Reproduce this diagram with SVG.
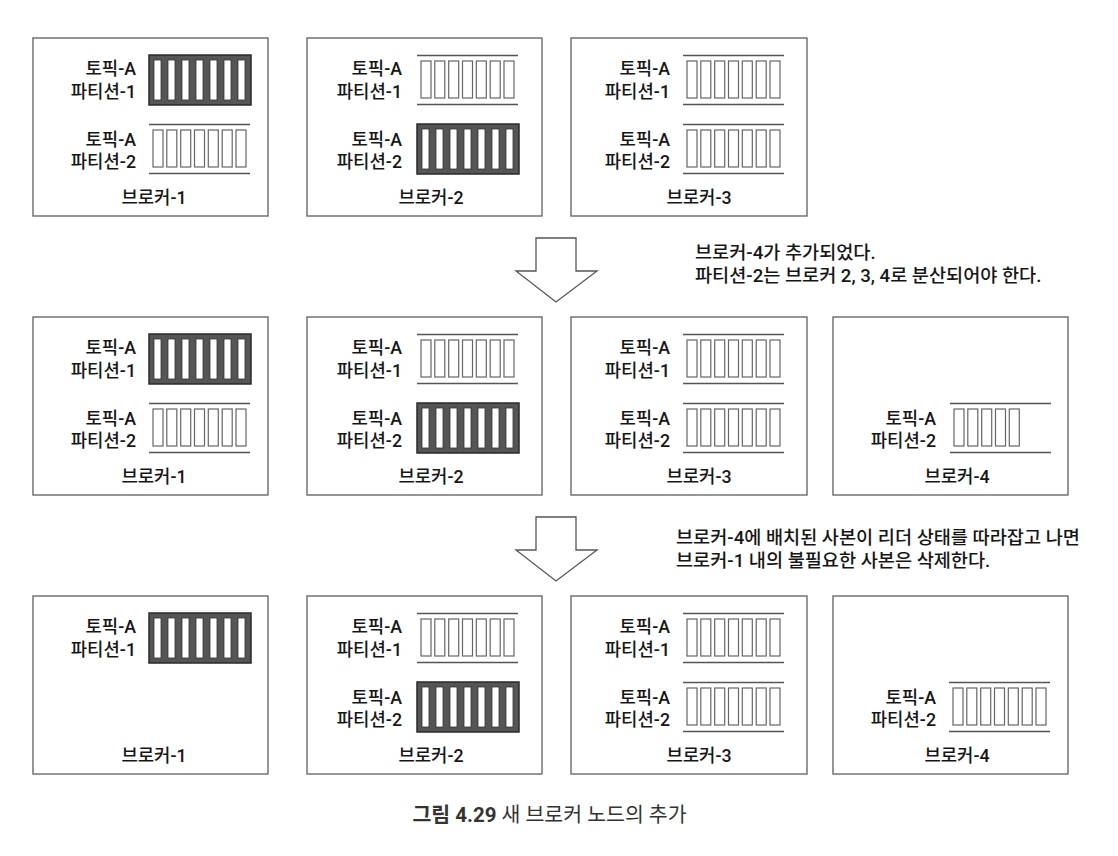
<svg xmlns="http://www.w3.org/2000/svg" xmlns:xlink="http://www.w3.org/1999/xlink" width="1118" height="856" viewBox="0 0 1118 856">
<style>
text{font-family:Roboto,"Noto Sans CJK KR",sans-serif;fill:#161616;font-size:17.8px;font-weight:500}
.lbl{text-anchor:end}
.name{text-anchor:middle}
.box{fill:#fff;stroke:#6a6a6a;stroke-width:1.4}
.note{font-size:18.6px}
.cap{font-size:20.5px;fill:#333;text-anchor:middle;font-weight:400}
.arrow{fill:#fff;stroke:#555;stroke-width:1.3;stroke-linejoin:miter}
</style>
<defs>
<g id="leader">
<rect x="0" y="0" width="102" height="50" fill="#555" stroke="#2a2a2a" stroke-width="1.5"/>
<g fill="#fff" stroke="#333" stroke-width="0.8">
<rect x="5" y="5" width="7" height="40"/><rect x="19" y="5" width="7" height="40"/><rect x="33" y="5" width="7" height="40"/><rect x="47" y="5" width="7" height="40"/><rect x="61" y="5" width="7" height="40"/><rect x="75" y="5" width="7" height="40"/><rect x="89" y="5" width="7" height="40"/>
</g>
</g>
<g id="follower7">
<path d="M0 0.5H101M0 49.5H101" stroke="#555" stroke-width="1.3" fill="none"/>
<g fill="#fff" stroke="#666" stroke-width="1.2">
<rect x="4" y="6" width="10" height="37"/><rect x="17.8" y="6" width="10" height="37"/><rect x="31.7" y="6" width="10" height="37"/><rect x="45.5" y="6" width="10" height="37"/><rect x="59.3" y="6" width="10" height="37"/><rect x="73.2" y="6" width="10" height="37"/><rect x="87" y="6" width="10" height="37"/>
</g>
</g>
<g id="follower5">
<path d="M0 0.5H101M0 49.5H101" stroke="#555" stroke-width="1.3" fill="none"/>
<g fill="#fff" stroke="#666" stroke-width="1.2">
<rect x="4" y="6" width="10" height="37"/><rect x="17.8" y="6" width="10" height="37"/><rect x="31.7" y="6" width="10" height="37"/><rect x="45.5" y="6" width="10" height="37"/><rect x="59.3" y="6" width="10" height="37"/>
</g>
</g>
</defs>

<!-- Row 1 -->
<g id="r1-broker1">
<rect class="box" x="33" y="38" width="235" height="178"/>
<use xlink:href="#leader" x="149" y="55"/>
<use xlink:href="#follower7" x="149" y="124"/>
<text class="lbl" x="136" y="75">토픽-A</text><text class="lbl" x="136" y="98">파티션-1</text>
<text class="lbl" x="136" y="146">토픽-A</text><text class="lbl" x="136" y="168">파티션-2</text>
<text class="name" x="154" y="204">브로커-1</text>
</g>
<g id="r1-broker2">
<rect class="box" x="307" y="38" width="235" height="178"/>
<use xlink:href="#follower7" x="417" y="55"/>
<use xlink:href="#leader" x="417" y="124"/>
<text class="lbl" x="402" y="75">토픽-A</text><text class="lbl" x="402" y="98">파티션-1</text>
<text class="lbl" x="402" y="146">토픽-A</text><text class="lbl" x="402" y="168">파티션-2</text>
<text class="name" x="431" y="204">브로커-2</text>
</g>
<g id="r1-broker3">
<rect class="box" x="571" y="38" width="236" height="178"/>
<use xlink:href="#follower7" x="683" y="55"/>
<use xlink:href="#follower7" x="683" y="124"/>
<text class="lbl" x="670" y="75">토픽-A</text><text class="lbl" x="670" y="98">파티션-1</text>
<text class="lbl" x="670" y="146">토픽-A</text><text class="lbl" x="670" y="168">파티션-2</text>
<text class="name" x="699" y="204">브로커-3</text>
</g>

<!-- Row 2 -->
<g id="r2-broker1">
<rect class="box" x="33" y="317" width="235" height="178"/>
<use xlink:href="#leader" x="149" y="334"/>
<use xlink:href="#follower7" x="149" y="403"/>
<text class="lbl" x="136" y="354">토픽-A</text><text class="lbl" x="136" y="377">파티션-1</text>
<text class="lbl" x="136" y="425">토픽-A</text><text class="lbl" x="136" y="447">파티션-2</text>
<text class="name" x="154" y="483">브로커-1</text>
</g>
<g id="r2-broker2">
<rect class="box" x="307" y="317" width="235" height="178"/>
<use xlink:href="#follower7" x="417" y="334"/>
<use xlink:href="#leader" x="417" y="403"/>
<text class="lbl" x="402" y="354">토픽-A</text><text class="lbl" x="402" y="377">파티션-1</text>
<text class="lbl" x="402" y="425">토픽-A</text><text class="lbl" x="402" y="447">파티션-2</text>
<text class="name" x="431" y="483">브로커-2</text>
</g>
<g id="r2-broker3">
<rect class="box" x="571" y="317" width="236" height="178"/>
<use xlink:href="#follower7" x="683" y="334"/>
<use xlink:href="#follower7" x="683" y="403"/>
<text class="lbl" x="670" y="354">토픽-A</text><text class="lbl" x="670" y="377">파티션-1</text>
<text class="lbl" x="670" y="425">토픽-A</text><text class="lbl" x="670" y="447">파티션-2</text>
<text class="name" x="699" y="483">브로커-3</text>
</g>
<g id="r2-broker4">
<rect class="box" x="833" y="317" width="235" height="178"/>
<use xlink:href="#follower5" x="950" y="403"/>
<text class="lbl" x="936" y="425">토픽-A</text><text class="lbl" x="936" y="447">파티션-2</text>
<text class="name" x="957" y="483">브로커-4</text>
</g>

<!-- Row 3 -->
<g id="r3-broker1">
<rect class="box" x="33" y="596" width="235" height="178"/>
<use xlink:href="#leader" x="149" y="613"/>
<text class="lbl" x="136" y="633">토픽-A</text><text class="lbl" x="136" y="656">파티션-1</text>
<text class="name" x="154" y="762">브로커-1</text>
</g>
<g id="r3-broker2">
<rect class="box" x="307" y="596" width="235" height="178"/>
<use xlink:href="#follower7" x="417" y="613"/>
<use xlink:href="#leader" x="417" y="682"/>
<text class="lbl" x="402" y="633">토픽-A</text><text class="lbl" x="402" y="656">파티션-1</text>
<text class="lbl" x="402" y="704">토픽-A</text><text class="lbl" x="402" y="726">파티션-2</text>
<text class="name" x="431" y="762">브로커-2</text>
</g>
<g id="r3-broker3">
<rect class="box" x="571" y="596" width="236" height="178"/>
<use xlink:href="#follower7" x="683" y="613"/>
<use xlink:href="#follower7" x="683" y="682"/>
<text class="lbl" x="670" y="633">토픽-A</text><text class="lbl" x="670" y="656">파티션-1</text>
<text class="lbl" x="670" y="704">토픽-A</text><text class="lbl" x="670" y="726">파티션-2</text>
<text class="name" x="699" y="762">브로커-3</text>
</g>
<g id="r3-broker4">
<rect class="box" x="833" y="596" width="235" height="178"/>
<use xlink:href="#follower7" x="949" y="682"/>
<text class="lbl" x="936" y="704">토픽-A</text><text class="lbl" x="936" y="726">파티션-2</text>
<text class="name" x="957" y="762">브로커-4</text>
</g>

<!-- Connectors: transition arrows -->
<g id="connectors">
<polygon class="arrow" points="536,238 576,238 576,271 597,271 556,302 516,271 536,271"/>
<polygon class="arrow" points="536,517 576,517 576,550 597,550 556,581 516,550 536,550"/>
</g>

<g id="notes">
<text class="note" x="695" y="259">브로커-4가 추가되었다.</text>
<text class="note" x="695" y="282">파티션-2는 브로커 2, 3, 4로 분산되어야 한다.</text>
<text class="note" x="676" y="544">브로커-4에 배치된 사본이 리더 상태를 따라잡고 나면</text>
<text class="note" x="676" y="567">브로커-1 내의 불필요한 사본은 삭제한다.</text>
</g>

<text class="cap" x="549.5" y="822"><tspan font-weight="bold">그림 4.29</tspan> 새 브로커 노드의 추가</text>
</svg>
